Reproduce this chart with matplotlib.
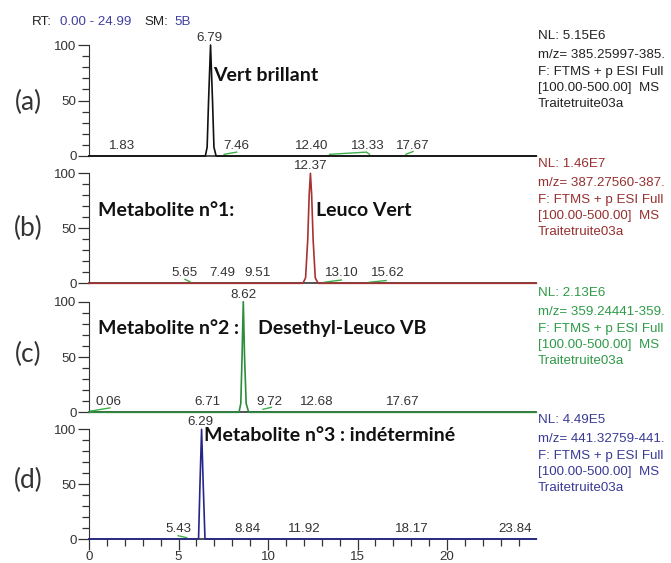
import matplotlib.pyplot as plt
from matplotlib.ticker import MultipleLocator

# ---- data ----
rt_a = [0, 6.50, 6.60, 6.68, 6.79, 6.90, 6.98, 7.10, 24.99]
int_a = [0, 0, 8, 50, 100, 50, 8, 0, 0]
rt_b = [0, 11.95, 12.10, 12.22, 12.30, 12.37, 12.44, 12.52, 12.64, 12.80, 24.99]
int_b = [0, 0, 5, 40, 80, 100, 80, 40, 5, 0, 0]
rt_c = [0, 8.38, 8.48, 8.55, 8.62, 8.69, 8.78, 8.92, 24.99]
int_c = [0, 0, 8, 50, 100, 50, 8, 0, 0]
rt_d = [0, 6.12, 6.20, 6.29, 6.38, 6.48, 24.99]
int_d = [0, 0, 50, 100, 50, 0, 0]

apex_labels = ["6.79", "12.37", "8.62", "6.29"]
apex_rt = [6.73, 12.40, 8.63, 6.20]

labels_a = ["1.83", "7.46", "12.40", "13.33", "17.67"]
labels_a_x = [1.86, 8.25, 12.44, 15.6, 18.1]
labels_b = ["5.65", "7.49", "9.51", "13.10", "15.62"]
labels_b_x = [5.36, 7.43, 9.41, 14.1, 16.7]
labels_c = ["0.06", "6.71", "9.72", "12.68", "17.67"]
labels_c_x = [1.07, 6.62, 10.1, 12.7, 17.5]
labels_d = ["5.43", "8.84", "11.92", "18.17", "23.84"]
labels_d_x = [4.98, 8.83, 12.04, 18.05, 23.8]

# small green integration marks (rt, intensity)
green_a = [([7.55, 8.25], [1.5, 3.5]), ([13.44, 15.5, 15.67], [1.5, 3.5, 1.5]), ([17.7, 18.1], [1.5, 4])]
green_b = [([5.36, 5.64], [3.6, 1.5]), ([13.16, 14.1], [1, 3]), ([15.67, 16.6], [1, 2.5])]
green_c = [([0.05, 1.17], [1, 4]), ([9.72, 10.19], [2.7, 4.5])]
green_d = [([4.98, 5.45], [3, 1.2])]

nl_values = ["5.15E6", "1.46E7", "2.13E6", "4.49E5"]
mz_ranges = ["385.25997-385.", "387.27560-387.", "359.24441-359.", "441.32759-441."]
panel_tags = ["(a)", "(b)", "(c)", "(d)"]

trace_colors = ["#111111", "#a83232", "#2a8c3c", "#26268a"]
info_colors = ["#222222", "#963030", "#2e9a48", "#3a3a96"]

W, H = 671, 563
zero_px = [156, 283.3, 412.3, 539]
top_px = [45, 173.3, 301.7, 429.3]
x0_px, xunit = 89, 17.9

small = dict(family="Liberation Sans", fontsize=9.6, color="#333333")
bold = dict(family="Lato", fontsize=14, fontweight="bold", color="#111111")

fig = plt.figure(figsize=(W / 100, H / 100), dpi=100)

traces = [(rt_a, int_a), (rt_b, int_b), (rt_c, int_c), (rt_d, int_d)]
labels = [(labels_a, labels_a_x), (labels_b, labels_b_x), (labels_c, labels_c_x), (labels_d, labels_d_x)]
greens = [green_a, green_b, green_c, green_d]

axes = []
for i in range(4):
    ax = fig.add_axes([x0_px / W, 1 - zero_px[i] / H,
                       24.99 * xunit / W, (zero_px[i] - top_px[i]) / H])
    ax.set_xlim(0, 24.99)
    ax.set_ylim(0, 100)
    ax.patch.set_alpha(0)
    for s in ["top", "right"]:
        ax.spines[s].set_visible(False)
    ax.spines["left"].set_color("#333333")
    ax.spines["bottom"].set_color("#333333")
    ax.spines["bottom"].set_linewidth(1.2)
    ax.set_yticks([0, 50, 100])
    ax.yaxis.set_minor_locator(MultipleLocator(10))
    ax.tick_params(axis="y", which="major", length=8, width=0.9, color="#333333",
                   labelsize=9.6, labelcolor="#333333", pad=1)
    ax.tick_params(axis="y", which="minor", length=5, width=0.9, color="#333333")
    for t in ax.get_yticklabels():
        t.set_family("Liberation Sans")
    if i < 3:
        ax.set_xticks([])
    else:
        ax.set_xticks([0, 5, 10, 15, 20])
        ax.xaxis.set_minor_locator(MultipleLocator(1))
        ax.tick_params(axis="x", which="major", length=8, width=0.9, color="#333333",
                       labelsize=9.6, labelcolor="#333333", pad=1)
        ax.tick_params(axis="x", which="minor", length=5, width=0.9, color="#333333")
        for t in ax.get_xticklabels():
            t.set_family("Liberation Sans")

    rt, inten = traces[i]
    ax.plot(rt, inten, color=trace_colors[i], lw=1.2, clip_on=False, zorder=5)
    for gx, gy in greens[i]:
        ax.plot(gx, gy, color="#3cae4a", lw=1, clip_on=False, zorder=4)

    ax.text(apex_rt[i], 101, apex_labels[i], ha="center", va="bottom", clip_on=False, **small)
    for lab, lx in zip(*labels[i]):
        ax.text(lx, 3.5, lab, ha="center", va="bottom", clip_on=False, **small)

    # panel tag and info block
    fig.text(28 / W, 1 - (top_px[i] + 57 - i * 2) / H, panel_tags[i], family="Lato",
             fontsize=19, color="#333333", ha="center", va="center")
    info = [f"NL: {nl_values[i]}", f"m/z= {mz_ranges[i]}", "F: FTMS + p ESI Full",
            "[100.00-500.00]  MS", "Traitetruite03a"]
    offs = [0, 19, 36, 52, 68]
    base = top_px[i] - 9
    for line, o in zip(info, offs):
        fig.text(538 / W, 1 - (base + o) / H, line, family="Liberation Sans",
                 fontsize=9.6, color=info_colors[i], ha="left", va="center")
    axes.append(ax)

# compound annotations
axes[0].text(6.93, 72.7, "Vert brillant", ha="left", va="center", **bold)
axes[1].text(0.5, 66, "Metabolite n°1:", ha="left", va="center", **bold)
axes[1].text(12.68, 66, "Leuco Vert", ha="left", va="center", **bold)
axes[2].text(0.5, 76, "Metabolite n°2 :", ha="left", va="center", **bold)
axes[2].text(9.44, 76, "Desethyl-Leuco VB", ha="left", va="center", **bold)
axes[3].text(6.45, 94, "Metabolite n°3 : indéterminé", ha="left", va="center",
             clip_on=False, **bold)

# header
hdr = [("RT:", 32, "#222222"), ("0.00 - 24.99", 60, "#4040a0"),
       ("SM:", 144, "#222222"), ("5B", 174, "#4040a0")]
for txt, xp, col in hdr:
    fig.text(xp / W, 1 - 22 / H, txt, family="Liberation Sans", fontsize=9.6,
             color=col, ha="left", va="center")

fig.savefig("out.png", dpi=100)
